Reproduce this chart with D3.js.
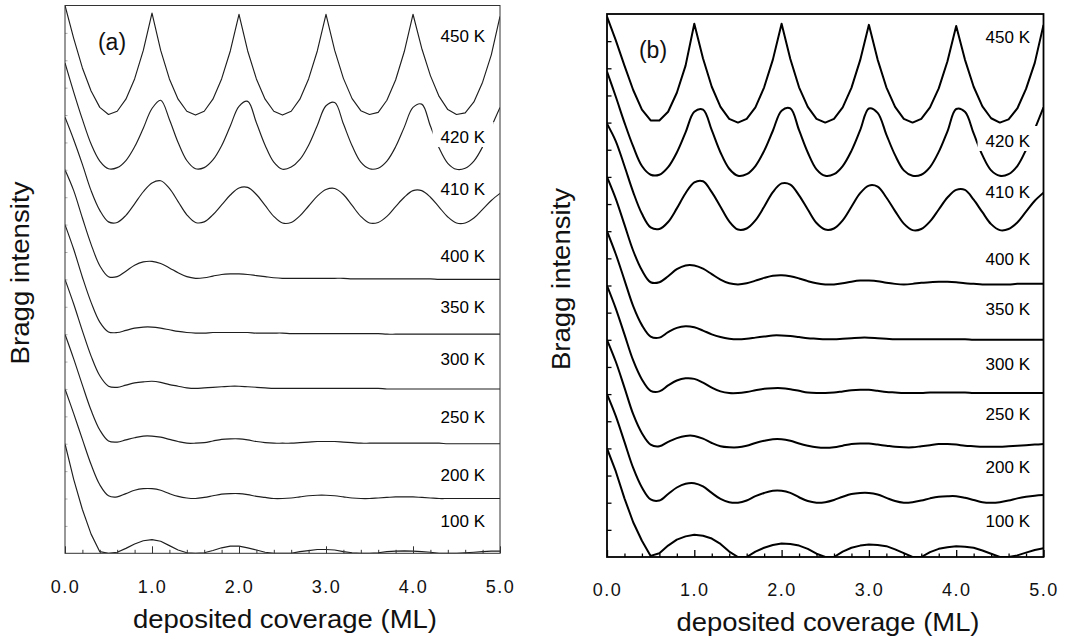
<!DOCTYPE html>
<html><head><meta charset="utf-8">
<script src="https://cdn.jsdelivr.net/npm/d3@7"></script>
<style>body{margin:0;background:#fff}svg{display:block}</style>
</head><body><svg id="c" width="1078" height="641"></svg>
<script>
// ---------------- data ----------------
const coverage = [0.0,0.1,0.2,0.3,0.4,0.5,0.6,0.7,0.8,0.9,1.0,1.1,1.2,1.3,1.4,1.5,1.6,1.7,1.8,1.9,2.0,2.1,2.2,2.3,2.4,2.5,2.6,2.7,2.8,2.9,3.0,3.1,3.2,3.3,3.4,3.5,3.6,3.7,3.8,3.9,4.0,4.1,4.2,4.3,4.4,4.5,4.6,4.7,4.8,4.9,5.0];
const temps = ["100 K","200 K","250 K","300 K","350 K","400 K","410 K","420 K","450 K"];
const offsets = [0,1,2,3,4,5,6,7,8];
const xTickValues = [0,1,2,3,4,5];
const xTickLabels = ["0.0","1.0","2.0","3.0","4.0","5.0"];

// panel (a)
const a100 = [2.00,1.35,0.80,0.35,0.03,0.00,0.02,0.09,0.17,0.23,0.25, 0.22,0.14,0.06,0.01,0.00,0.01,0.05,0.10,0.13,0.13, 0.10,0.06,0.02,0.00,0.00,0.00,0.03,0.05,0.07,0.07, 0.06,0.03,0.01,0.00,0.00,0.01,0.03,0.04,0.045,0.04, 0.03,0.02,0.00,0.00,0.00,0.01,0.02,0.03,0.04,0.04];
const a200 = [2.00,1.55,1.08,0.62,0.25,0.05,0.03,0.09,0.15,0.18,0.18, 0.15,0.09,0.04,0.01,0.00,0.02,0.05,0.08,0.09,0.09, 0.07,0.04,0.02,0.00,0.00,0.01,0.03,0.05,0.06,0.06, 0.05,0.03,0.01,0.00,0.00,0.01,0.02,0.03,0.03,0.03, 0.02,0.01,0.00,0.00,0.00,0.00,0.00,0.00,0.00,0.00];
const a250 = [2.00,1.55,1.07,0.61,0.25,0.05,0.03,0.07,0.11,0.14,0.14, 0.12,0.08,0.04,0.01,0.01,0.02,0.05,0.08,0.09,0.09, 0.07,0.04,0.02,0.01,0.01,0.01,0.02,0.03,0.04,0.04, 0.04,0.03,0.02,0.01,0.01,0.01,0.01,0.01,0.01,0.01, 0.01,0.01,0.01,0.00,0.00,0.00,0.00,0.00,0.00,0.00];
const a300 = [2.00,1.55,1.06,0.60,0.24,0.05,0.03,0.07,0.11,0.13,0.14, 0.12,0.08,0.05,0.02,0.01,0.02,0.03,0.04,0.05,0.05, 0.04,0.03,0.02,0.01,0.01,0.01,0.01,0.01,0.01,0.01, 0.01,0.01,0.01,0.01,0.01,0.01,0.00,0.00,0.00,0.00, 0.00,0.00,0.00,0.00,0.00,0.00,0.00,0.00,0.00,0.00];
const a350 = [2.00,1.55,1.04,0.58,0.22,0.04,0.03,0.07,0.11,0.13,0.13, 0.11,0.08,0.05,0.03,0.02,0.02,0.03,0.03,0.03,0.03, 0.03,0.02,0.02,0.02,0.02,0.01,0.01,0.01,0.01,0.01, 0.01,0.01,0.01,0.01,0.01,0.01,0.00,0.00,0.00,0.00, 0.00,0.00,0.00,0.00,0.00,0.00,0.00,0.00,0.00,0.00];
const a400 = [2.00,1.62,1.12,0.64,0.25,0.05,0.05,0.15,0.26,0.32,0.33, 0.29,0.21,0.12,0.05,0.02,0.03,0.06,0.09,0.10,0.10, 0.09,0.07,0.05,0.03,0.02,0.02,0.02,0.02,0.02,0.02, 0.02,0.02,0.01,0.01,0.01,0.01,0.01,0.01,0.01,0.01, 0.01,0.01,0.00,0.00,0.00,0.00,0.00,0.00,0.00,0.00];
const a410 = [1.96,1.55,1.10,0.62,0.26,0.05,0.04,0.17,0.38,0.60,0.76, 0.80,0.66,0.42,0.18,0.04,0.05,0.18,0.36,0.54,0.67, 0.68,0.55,0.35,0.15,0.03,0.04,0.16,0.34,0.52,0.64, 0.66,0.55,0.35,0.15,0.03,0.04,0.15,0.33,0.50,0.62, 0.62,0.50,0.32,0.14,0.03,0.03,0.12,0.28,0.44,0.57];
const a420 = [1.95,1.42,0.92,0.47,0.16,0.02,0.04,0.17,0.42,0.76,1.12, 1.27,0.92,0.50,0.17,0.02,0.04,0.18,0.44,0.80,1.16, 1.25,0.86,0.45,0.14,0.01,0.05,0.19,0.45,0.81,1.17, 1.23,0.84,0.44,0.14,0.02,0.03,0.16,0.42,0.78,1.14, 1.20,0.80,0.40,0.12,0.01,0.03,0.16,0.42,0.78,1.14];
const a450 = [2.00,1.40,0.86,0.44,0.14,0.01,0.07,0.29,0.66,1.18,1.86, 1.18,0.66,0.29,0.07,0.00,0.07,0.29,0.66,1.17,1.84, 1.17,0.66,0.29,0.07,0.00,0.07,0.29,0.66,1.17,1.84, 1.18,0.67,0.30,0.08,0.01,0.05,0.27,0.64,1.16,1.84, 1.22,0.72,0.34,0.10,0.01,0.04,0.24,0.60,1.10,1.80];

// panel (b)
const b100 = [2.00,1.58,1.08,0.64,0.30,0.02,0.07,0.21,0.32,0.38,0.41, 0.39,0.34,0.24,0.10,0.00,0.00,0.10,0.17,0.22,0.25, 0.24,0.21,0.15,0.06,0.00,0.00,0.10,0.17,0.21,0.23, 0.22,0.20,0.14,0.07,0.00,0.00,0.09,0.15,0.18,0.20, 0.19,0.17,0.12,0.06,0.00,0.00,0.03,0.08,0.13,0.16];
const b200 = [2.00,1.60,1.12,0.64,0.28,0.06,0.04,0.16,0.28,0.35,0.36, 0.30,0.18,0.07,0.01,0.00,0.04,0.12,0.18,0.22,0.22, 0.18,0.10,0.03,0.00,0.01,0.05,0.11,0.16,0.18,0.18, 0.15,0.09,0.03,0.00,0.01,0.04,0.08,0.11,0.12,0.12, 0.09,0.05,0.01,0.00,0.01,0.04,0.08,0.11,0.13,0.14];
const b250 = [2.00,1.60,1.12,0.63,0.28,0.07,0.04,0.12,0.19,0.23,0.23, 0.18,0.10,0.04,0.02,0.02,0.05,0.10,0.14,0.17,0.17, 0.14,0.09,0.05,0.02,0.01,0.02,0.05,0.08,0.09,0.09, 0.07,0.05,0.03,0.02,0.02,0.04,0.06,0.08,0.08,0.07, 0.05,0.04,0.03,0.03,0.03,0.04,0.05,0.06,0.07,0.08];
const b300 = [2.00,1.58,1.10,0.62,0.27,0.06,0.05,0.16,0.25,0.29,0.28, 0.21,0.12,0.05,0.02,0.02,0.04,0.07,0.10,0.11,0.11, 0.09,0.06,0.03,0.02,0.02,0.03,0.05,0.07,0.08,0.08, 0.06,0.04,0.03,0.02,0.02,0.02,0.03,0.03,0.03,0.03, 0.03,0.02,0.02,0.02,0.02,0.02,0.02,0.02,0.02,0.02];
const b350 = [2.00,1.58,1.10,0.62,0.27,0.06,0.04,0.14,0.22,0.25,0.23, 0.17,0.10,0.05,0.02,0.01,0.02,0.04,0.06,0.08,0.08, 0.07,0.05,0.03,0.02,0.01,0.01,0.02,0.03,0.04,0.04, 0.03,0.02,0.01,0.01,0.01,0.01,0.01,0.01,0.01,0.01, 0.01,0.00,0.00,0.00,0.00,0.00,0.00,0.00,0.00,0.00];
const b400 = [2.00,1.60,1.12,0.64,0.28,0.06,0.06,0.17,0.30,0.37,0.37, 0.31,0.21,0.11,0.04,0.02,0.04,0.09,0.14,0.18,0.19, 0.17,0.13,0.08,0.04,0.02,0.02,0.04,0.07,0.09,0.09, 0.08,0.05,0.03,0.02,0.03,0.05,0.06,0.07,0.07,0.06, 0.04,0.03,0.02,0.02,0.02,0.02,0.03,0.03,0.03,0.03];
const b410 = [1.98,1.66,1.20,0.72,0.32,0.07,0.04,0.17,0.42,0.70,0.90, 0.92,0.72,0.45,0.18,0.03,0.05,0.20,0.45,0.72,0.88, 0.86,0.66,0.40,0.15,0.03,0.05,0.20,0.45,0.70,0.84, 0.82,0.62,0.37,0.14,0.02,0.04,0.18,0.40,0.62,0.76, 0.76,0.58,0.35,0.13,0.02,0.04,0.16,0.36,0.56,0.71];
const b420 = [1.94,1.48,1.00,0.56,0.20,0.04,0.04,0.18,0.45,0.82,1.20, 1.24,0.86,0.45,0.15,0.02,0.05,0.20,0.48,0.85,1.22, 1.26,0.86,0.45,0.14,0.02,0.05,0.20,0.48,0.86,1.26, 1.18,0.78,0.40,0.12,0.02,0.04,0.18,0.46,0.84,1.25, 1.20,0.80,0.40,0.12,0.02,0.05,0.20,0.50,0.88,1.28];
const b450 = [1.95,1.52,1.05,0.60,0.24,0.04,0.04,0.20,0.55,1.05,1.82, 1.18,0.66,0.29,0.07,0.00,0.07,0.28,0.65,1.16,1.82, 1.17,0.65,0.29,0.07,0.00,0.07,0.28,0.64,1.15,1.80, 1.16,0.65,0.29,0.07,0.00,0.07,0.28,0.63,1.13,1.78, 1.16,0.66,0.30,0.08,0.00,0.06,0.26,0.62,1.10,1.80];

// ---------------- layout ----------------
const FONT = "'Liberation Sans', Arial, Helvetica, sans-serif";
const panels = [
  {id:"a", series:[a100,a200,a250,a300,a350,a400,a410,a420,a450],
   left:65, right:500, top:5.5, bottom:553.3,
   lineColor:"#1e1e1e", lineW:1.15, frameColor:"#333", frameW:1, yTickColor:"#999",
   labelRight:485, labelBase:[527,481,423,365,313,262,195,143,42],
   tag:"(a)", tagX:112, tagY:50, tickPad:27,
   yTitle:{x:29, y:273, len:183}, xTitle:{x:285, y:628, len:304}},
  {id:"b", series:[b100,b200,b250,b300,b350,b400,b410,b420,b450],
   left:607, right:1043.5, top:14, bottom:557,
   lineColor:"#000", lineW:2, frameColor:"#000", frameW:1.8, yTickColor:"#000",
   labelRight:1030, labelBase:[527,473,420,370,315,265,198,147,43],
   tag:"(b)", tagX:653, tagY:58, tickPad:26,
   yTitle:{x:570, y:279, len:182}, xTitle:{x:828, y:631, len:303}}
];

const svg = d3.select("#c");
const defs = svg.append("defs");

panels.forEach(p => {
  const x = d3.scaleLinear().domain([0,5]).range([p.left, p.right]);
  const y = d3.scaleLinear().domain([0,10]).range([p.bottom, p.top]);
  const g = svg.append("g");

  defs.append("clipPath").attr("id","clip"+p.id)
    .append("rect").attr("x",p.left).attr("y",p.top-1)
    .attr("width",p.right-p.left).attr("height",p.bottom-p.top+1);

  // temperature labels
  const labels = g.append("g").attr("font-family",FONT).attr("font-size",17)
    .attr("fill","#000").attr("text-anchor","end");
  const lab = labels.selectAll("text").data(temps).join("text")
    .attr("x",p.labelRight).attr("y",(d,i)=>p.labelBase[i]).text(d=>d);

  // mask hiding the 420 K curve behind its label
  const bb = lab.nodes()[7].getBBox();
  const mask = defs.append("mask").attr("id","mask"+p.id).attr("maskUnits","userSpaceOnUse")
    .attr("x",0).attr("y",0).attr("width",1078).attr("height",641);
  mask.append("rect").attr("x",0).attr("y",0).attr("width",1078).attr("height",641).attr("fill","#fff");
  mask.append("rect").attr("x",bb.x-8).attr("y",bb.y-6).attr("width",bb.width+16)
    .attr("height",bb.height+6).attr("fill","#000");

  // curves
  const curves = g.append("g").attr("clip-path",`url(#clip${p.id})`);
  p.series.forEach((vals,i) => {
    const pts = coverage.map((c,j)=>[c, offsets[i]+vals[j]]);
    const cur = (i===0 || i===8) ? d3.curveLinear : d3.curveCatmullRom.alpha(0.5);
    const line = d3.line().x(d=>x(d[0])).y(d=>y(d[1])).curve(cur);
    const path = curves.append("path").attr("d",line(pts)).attr("fill","none")
      .attr("stroke",p.lineColor).attr("stroke-width",p.lineW)
      .attr("stroke-linejoin","round");
    if (i===7) path.attr("mask",`url(#mask${p.id})`);
  });

  // axes ticks
  const major = g.append("g").attr("transform",`translate(0,${p.bottom})`)
    .call(d3.axisBottom(x).tickValues(xTickValues).tickFormat((d,i)=>xTickLabels[i])
      .tickSizeInner(-7).tickSizeOuter(0).tickPadding(p.tickPad));
  major.select(".domain").remove();
  major.selectAll("line").attr("stroke",p.frameColor).attr("stroke-width",p.frameW>1?1.3:1);
  major.selectAll("text").attr("font-family",FONT).attr("font-size",18)
    .attr("fill","#111").attr("letter-spacing","1.5px");

  const minorVals = d3.range(0,5.001,0.2).filter(v=>Math.abs(v-Math.round(v))>1e-6);
  const minor = g.append("g").attr("transform",`translate(0,${p.bottom})`)
    .call(d3.axisBottom(x).tickValues(minorVals).tickSize(-3.5).tickFormat(""));
  minor.select(".domain").remove();
  minor.selectAll("line").attr("stroke",p.frameColor).attr("stroke-width",p.frameW>1?1.3:1);

  const yt = g.append("g").attr("transform",`translate(${p.left},0)`)
    .call(d3.axisLeft(y).tickValues(d3.range(0.5,10,0.5)).tickSize(p.frameW>1?-4.5:-2.5).tickFormat(""));
  yt.select(".domain").remove();
  yt.selectAll("line").attr("stroke",p.yTickColor).attr("stroke-width",p.frameW>1?1.3:0.8);

  // frame
  g.append("rect").attr("x",p.left).attr("y",p.top).attr("width",p.right-p.left)
    .attr("height",p.bottom-p.top).attr("fill","none")
    .attr("stroke",p.frameColor).attr("stroke-width",p.frameW);

  // panel tag
  g.append("text").attr("x",p.tagX).attr("y",p.tagY).attr("text-anchor","middle")
    .attr("font-family",FONT).attr("font-size",23).attr("fill","#111").text(p.tag);

  // axis titles
  g.append("text").attr("x",p.xTitle.x).attr("y",p.xTitle.y).attr("text-anchor","middle")
    .attr("font-family",FONT).attr("font-size",25).attr("fill","#111")
    .attr("textLength",p.xTitle.len).attr("lengthAdjust","spacingAndGlyphs")
    .text("deposited coverage (ML)");
  g.append("text").attr("transform",`translate(${p.yTitle.x},${p.yTitle.y}) rotate(-90)`)
    .attr("text-anchor","middle").attr("font-family",FONT).attr("font-size",25).attr("fill","#111")
    .attr("textLength",p.yTitle.len).attr("lengthAdjust","spacingAndGlyphs")
    .text("Bragg intensity");
});
</script>
</body></html>
